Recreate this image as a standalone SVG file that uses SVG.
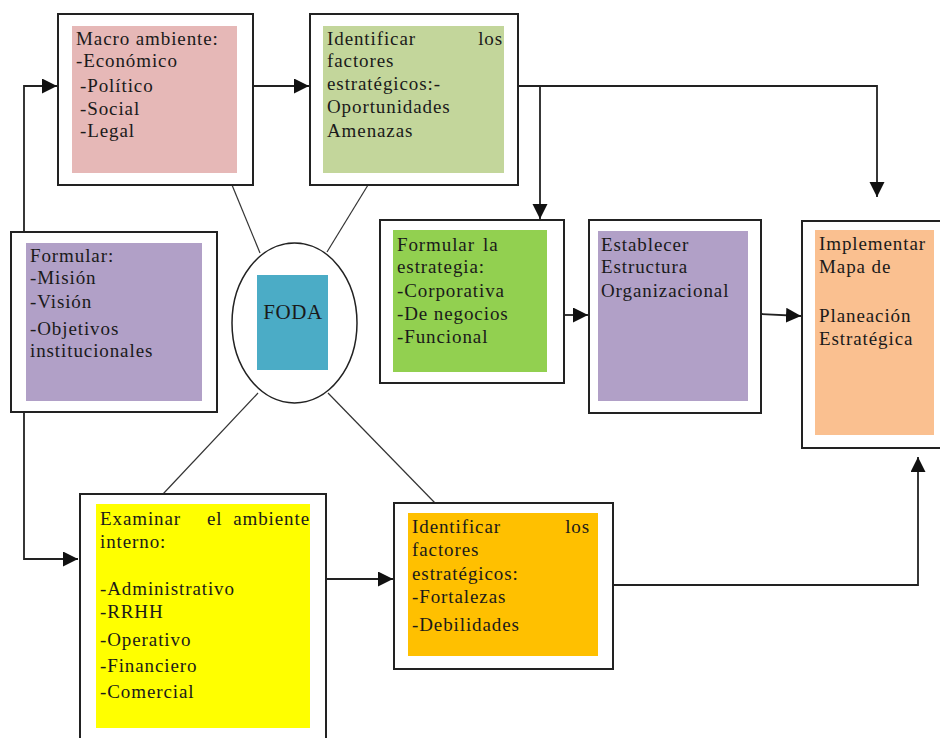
<svg xmlns="http://www.w3.org/2000/svg" width="940" height="738" viewBox="0 0 940 738">
<defs>
<marker id="arr" markerUnits="userSpaceOnUse" markerWidth="16" markerHeight="16" refX="15" refY="7.5" orient="auto">
<path d="M0,0 L15,7.5 L0,15 Z" fill="#111"/>
</marker>
</defs>
<style>
.outer{fill:#fff;stroke:#222;stroke-width:2}
.conn{fill:none;stroke:#222;stroke-width:1.8}
.thin{fill:none;stroke:#333;stroke-width:1.2}
text{font-family:"Liberation Serif","Times New Roman",serif;font-size:19px;fill:#1a1a1a;letter-spacing:0.9px}
.end{text-anchor:end}
</style>
<rect width="940" height="738" fill="#fff"/>
<g id="connectors">
<path class="conn" d="M24,322 V86 H57" marker-end="url(#arr)"/>
<path class="conn" d="M24,322 V559 H78" marker-end="url(#arr)"/>
<path class="conn" d="M253,86 H309" marker-end="url(#arr)"/>
<path class="conn" d="M518,86 H877 V197" marker-end="url(#arr)"/>
<path class="conn" d="M540,86 V219" marker-end="url(#arr)"/>
<path class="conn" d="M564,315 H588" marker-end="url(#arr)"/>
<path class="conn" d="M761,314 L801,316" marker-end="url(#arr)"/>
<path class="conn" d="M326,579 H393" marker-end="url(#arr)"/>
<path class="conn" d="M613,585 H918 V457" marker-end="url(#arr)"/>
<path class="thin" d="M232,185 L260,253"/>
<path class="thin" d="M368,185 L327,252"/>
<path class="thin" d="M258,393 L163,494"/>
<path class="thin" d="M328,393 L435,503"/>
</g>
<g id="macro">
<rect class="outer" x="58" y="14" width="195" height="171"/>
<rect x="72" y="26" width="165" height="147" fill="#E6B8B7"/>
<text x="76" y="45">Macro ambiente:</text>
<text x="76" y="67">-Económico</text>
<text x="80" y="92">-Político</text>
<text x="80" y="115">-Social</text>
<text x="80" y="137">-Legal</text>
</g>
<g id="identificar-oportunidades">
<rect class="outer" x="310" y="14" width="208" height="171"/>
<rect x="323" y="26" width="181" height="147" fill="#C3D69B"/>
<text x="327" y="45">Identificar</text>
<text class="end" x="503" y="45">los</text>
<text x="327" y="67">factores</text>
<text x="327" y="90">estratégicos:-</text>
<text x="327" y="113">Oportunidades</text>
<text x="327" y="137">Amenazas</text>
</g>
<g id="formular">
<rect class="outer" x="11" y="232" width="206" height="180"/>
<rect x="26" y="243" width="176" height="158" fill="#B1A0C7"/>
<text x="30" y="262">Formular:</text>
<text x="30" y="284">-Misión</text>
<text x="30" y="308">-Visión</text>
<text x="30" y="335">-Objetivos</text>
<text x="30" y="357">institucionales</text>
</g>
<g id="foda">
<ellipse cx="294.5" cy="323" rx="62.5" ry="80" fill="#fff" stroke="#222" stroke-width="1.5"/>
<rect x="257" y="275" width="71" height="95" fill="#4BACC6"/>
<text x="293" y="319" text-anchor="middle" style="font-size:21px;letter-spacing:0.6px">FODA</text>
</g>
<g id="formular-estrategia">
<rect class="outer" x="380" y="220" width="184" height="163"/>
<rect x="393" y="230" width="154" height="142" fill="#92D050"/>
<text x="397" y="251">Formular</text>
<text x="483" y="251">la</text>
<text x="397" y="273">estrategia:</text>
<text x="397" y="297">-Corporativa</text>
<text x="397" y="320">-De negocios</text>
<text x="397" y="343">-Funcional</text>
</g>
<g id="establecer">
<rect class="outer" x="589" y="220" width="172" height="193"/>
<rect x="598" y="231" width="150" height="170" fill="#B1A0C7"/>
<text x="601" y="251">Establecer</text>
<text x="601" y="273">Estructura</text>
<text x="601" y="297">Organizacional</text>
</g>
<g id="implementar">
<rect class="outer" x="802" y="221" width="145" height="227"/>
<rect x="815" y="230" width="119" height="205" fill="#FAC090"/>
<text x="819" y="250">Implementar</text>
<text x="819" y="273">Mapa de</text>
<text x="819" y="322">Planeación</text>
<text x="819" y="345">Estratégica</text>
</g>
<g id="examinar">
<rect class="outer" x="80" y="494" width="246" height="252"/>
<rect x="96" y="504" width="214" height="224" fill="#FFFF00"/>
<text x="100" y="525">Examinar</text>
<text x="207" y="525">el</text>
<text class="end" x="310" y="525">ambiente</text>
<text x="100" y="548">interno:</text>
<text x="100" y="595">-Administrativo</text>
<text x="100" y="618">-RRHH</text>
<text x="100" y="646">-Operativo</text>
<text x="100" y="672">-Financiero</text>
<text x="100" y="698">-Comercial</text>
</g>
<g id="identificar-fortalezas">
<rect class="outer" x="394" y="503" width="219" height="166"/>
<rect x="408" y="513" width="190" height="143" fill="#FFC000"/>
<text x="412" y="533">Identificar</text>
<text class="end" x="590" y="533">los</text>
<text x="412" y="556">factores</text>
<text x="412" y="580">estratégicos:</text>
<text x="412" y="603">-Fortalezas</text>
<text x="412" y="631">-Debilidades</text>
</g>
</svg>
